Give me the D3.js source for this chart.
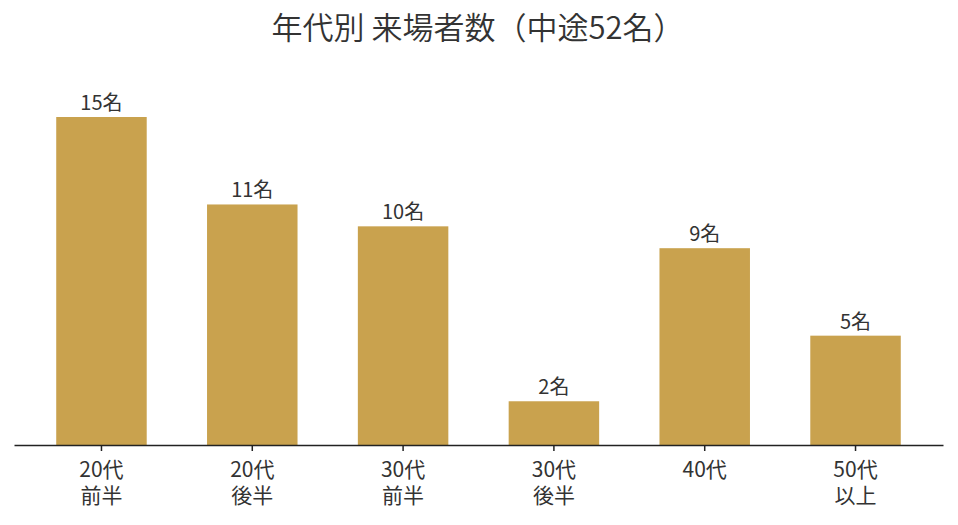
<!DOCTYPE html>
<html>
<head>
<meta charset="utf-8">
<script src="https://cdn.jsdelivr.net/npm/d3@7"></script>
<style>
  body { margin: 0; background: #fff; }
  svg text { font-family: "Noto Sans CJK JP", "Noto Sans", sans-serif; fill: #333; }
</style>
</head>
<body>
<script>
const title = "年代別 来場者数（中途52名）";
const categories = ["20代\n前半", "20代\n後半", "30代\n前半", "30代\n後半", "40代", "50代\n以上"];
const counts = [15, 11, 10, 2, 9, 5];
const unit = "名";

const width = 958;
const height = 525;
const barColor = "#C9A24E";

const svg = d3.select("body")
  .append("svg")
  .attr("width", width)
  .attr("height", height);

const x = d3.scaleBand()
  .domain(categories)
  .range([14, 943])
  .paddingInner(0.4)
  .paddingOuter(0.28);

const y = d3.scaleLinear()
  .domain([0, 15])
  .range([445, 117]);

svg.append("text")
  .attr("x", width / 2 - 1)
  .attr("y", 39)
  .attr("text-anchor", "middle")
  .style("font-size", "31px")
  .style("font-weight", 350)
  .text(title);

svg.selectAll("rect.bar")
  .data(counts)
  .enter()
  .append("rect")
  .attr("class", "bar")
  .attr("x", (d, i) => x(categories[i]))
  .attr("y", d => y(d))
  .attr("width", x.bandwidth())
  .attr("height", d => y(0) - y(d))
  .attr("fill", barColor);

svg.selectAll("text.value")
  .data(counts)
  .enter()
  .append("text")
  .attr("class", "value")
  .attr("x", (d, i) => x(categories[i]) + x.bandwidth() / 2)
  .attr("y", d => y(d) - 7)
  .attr("text-anchor", "middle")
  .style("font-size", "20px")
  .text(d => d + unit);

// x axis: line, ticks, two-line labels
const axis = svg.append("g")
  .attr("transform", `translate(0, ${y(0)})`)
  .call(d3.axisBottom(x).tickSize(6).tickSizeOuter(0).tickFormat(""));

axis.select(".domain").attr("stroke", "#222").attr("stroke-width", 1.5);
axis.selectAll(".tick line").attr("stroke", "#222").attr("stroke-width", 1.5);

axis.selectAll(".tick").each(function(d) {
  const lines = d.split("\n");
  lines.forEach((line, k) => {
    d3.select(this).append("text")
      .attr("text-anchor", "middle")
      .attr("fill", "#222")
      .attr("y", 32 + k * 26)
      .style("font-size", "21px")
      .text(line);
  });
});
</script>
</body>
</html>
